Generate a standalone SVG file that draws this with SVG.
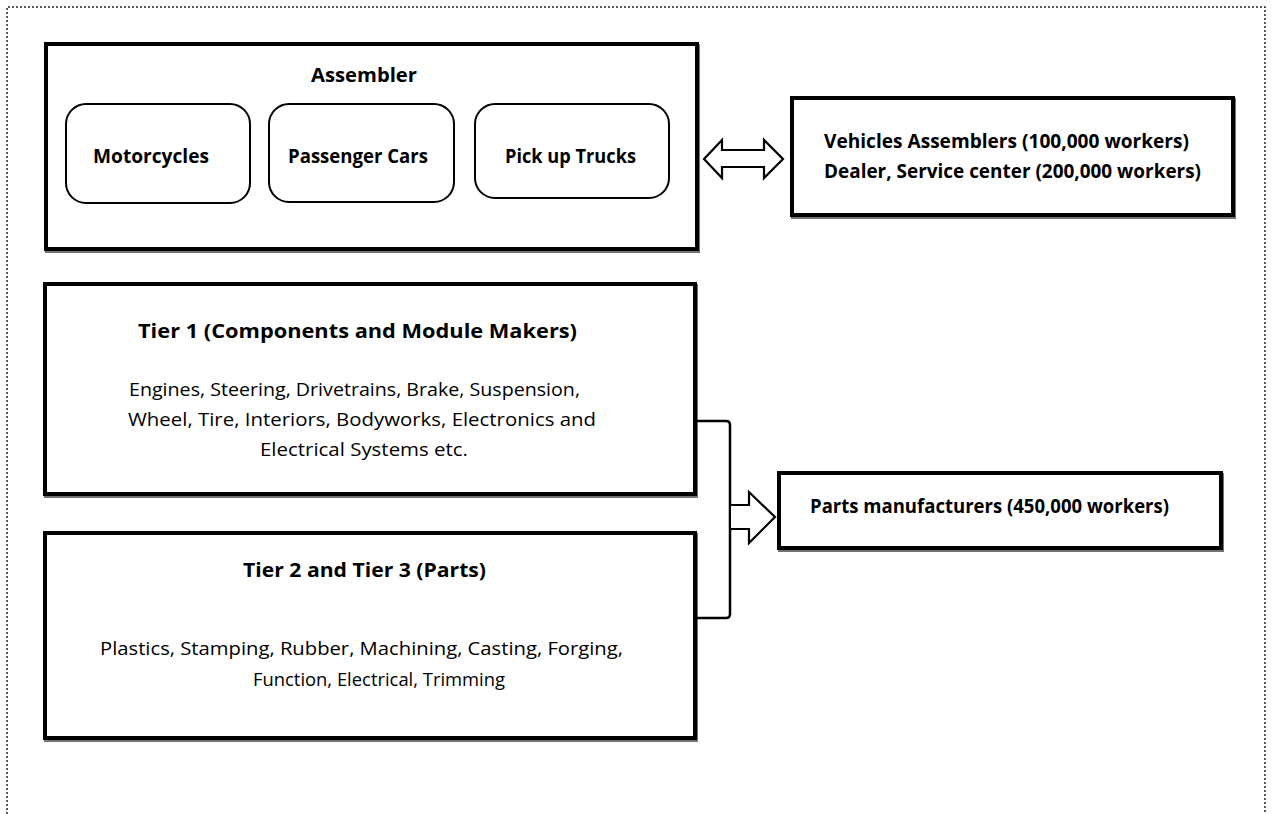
<svg xmlns="http://www.w3.org/2000/svg" width="1272" height="814" viewBox="0 0 1272 814">
  <style>
    .box { fill: #ffffff; stroke: #000000; stroke-width: 4; }
    .inner { fill: #ffffff; stroke: #000000; stroke-width: 2; }
    .frame { fill: none; stroke: #222222; stroke-width: 1.5; stroke-dasharray: 2 2; }
    .conn { fill: #ffffff; stroke: #000000; stroke-width: 2.2; stroke-linejoin: miter; }
    .line { fill: none; stroke: #000000; stroke-width: 2.5; }
    text { font-family: "Open Sans", "Liberation Sans", sans-serif; fill: #000000; font-size: 19px; }
    .b { font-weight: bold; }
  </style>
  <defs>
    <filter id="shadow" x="-5%" y="-5%" width="110%" height="115%">
      <feDropShadow dx="1" dy="2" stdDeviation="0.6" flood-color="#000000" flood-opacity="0.55"/>
    </filter>
  </defs>

  <rect width="1272" height="814" fill="#ffffff"/>
  <!-- dotted page frame -->
  <path class="frame" d="M7,814 V7 H1265 V814"/>

  <!-- assembler group -->
  <g id="assembler">
    <rect class="box" x="46" y="44" width="651" height="205" filter="url(#shadow)"/>
    <text class="b" x="311" y="82" textLength="106" lengthAdjust="spacingAndGlyphs">Assembler</text>
    <g id="motorcycles">
      <rect class="inner" x="66" y="104" width="184" height="99" rx="20"/>
      <text class="b" x="93" y="163" textLength="116" lengthAdjust="spacingAndGlyphs">Motorcycles</text>
    </g>
    <g id="passenger-cars">
      <rect class="inner" x="269" y="104" width="185" height="98" rx="20"/>
      <text class="b" x="288" y="163" textLength="140" lengthAdjust="spacingAndGlyphs">Passenger Cars</text>
    </g>
    <g id="pickup-trucks">
      <rect class="inner" x="475" y="104" width="194" height="94" rx="20"/>
      <text class="b" x="505" y="163" textLength="131" lengthAdjust="spacingAndGlyphs">Pick up Trucks</text>
    </g>
  </g>

  <g id="vehicles">
    <rect class="box" x="792" y="98" width="441" height="117" filter="url(#shadow)"/>
    <text class="b" x="824" y="148" textLength="365" lengthAdjust="spacingAndGlyphs">Vehicles Assemblers (100,000 workers)</text>
    <text class="b" x="824" y="178" textLength="377" lengthAdjust="spacingAndGlyphs">Dealer, Service center (200,000 workers)</text>
  </g>

  <g id="tier1">
    <rect class="box" x="45" y="284" width="650" height="210" filter="url(#shadow)"/>
    <text class="b" x="138" y="338" textLength="439" lengthAdjust="spacingAndGlyphs">Tier 1 (Components and Module Makers)</text>
    <text x="129" y="396" textLength="451" lengthAdjust="spacingAndGlyphs">Engines, Steering, Drivetrains, Brake, Suspension,</text>
    <text x="128" y="426" textLength="468" lengthAdjust="spacingAndGlyphs">Wheel, Tire, Interiors, Bodyworks, Electronics and</text>
    <text x="260" y="456" textLength="208" lengthAdjust="spacingAndGlyphs">Electrical Systems etc.</text>
  </g>

  <g id="tier2">
    <rect class="box" x="45" y="533" width="650" height="205" filter="url(#shadow)"/>
    <text class="b" x="243" y="577" textLength="243" lengthAdjust="spacingAndGlyphs">Tier 2 and Tier 3 (Parts)</text>
    <text x="100" y="655" textLength="523" lengthAdjust="spacingAndGlyphs">Plastics, Stamping, Rubber, Machining, Casting, Forging,</text>
    <text x="253" y="686" textLength="252" lengthAdjust="spacingAndGlyphs">Function, Electrical, Trimming</text>
  </g>

  <g id="parts">
    <rect class="box" x="779" y="473" width="442" height="75" filter="url(#shadow)"/>
    <text class="b" x="810" y="513" textLength="359" lengthAdjust="spacingAndGlyphs">Parts manufacturers (450,000 workers)</text>
  </g>

  <g id="connectors">
    <!-- two-way block arrow between assembler and vehicles -->
    <path class="conn" d="M704,159 L722,140 L722,150 L764,150 L764,140 L783,159 L764,178 L764,167 L722,167 L722,178 Z"/>
    <!-- bracket joining tier 1 and tier 2 -->
    <path class="line" d="M696,421 H726 Q730,421 730,425 V614 Q730,618 726,618 H696"/>
    <!-- block arrow into parts manufacturers -->
    <path class="conn" d="M731,505 L749,505 L749,492 L775,517 L749,543 L749,529 L731,529"/>
  </g>
</svg>
